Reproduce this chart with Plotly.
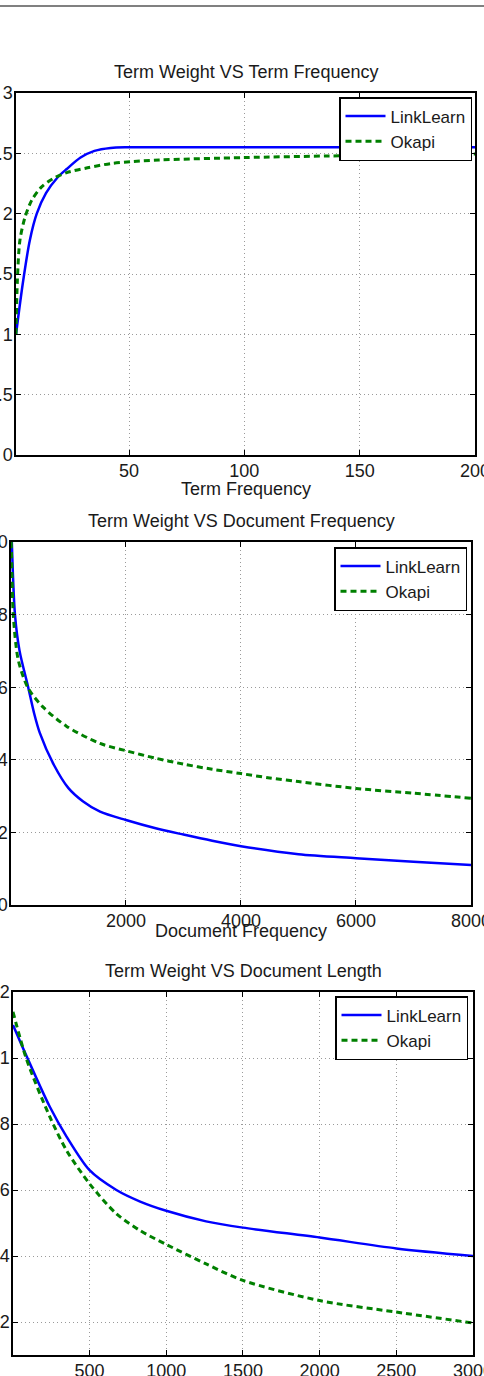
import plotly.graph_objects as go

W, H = 484, 1376

# ---- Data: Term Weight VS Term Frequency ----
tf_x_linklearn = [1, 4, 7, 10, 14, 19, 23, 29, 35, 42, 50, 100, 150, 200]
tf_y_linklearn = [1.0, 1.43, 1.78, 2.0, 2.17, 2.30, 2.37, 2.465, 2.52, 2.545, 2.55, 2.55, 2.55, 2.55]
tf_x_okapi = [1, 1.6, 2.7, 4.9, 7.8, 12, 17, 23, 32, 42, 52, 63, 100, 136, 200]
tf_y_okapi = [1.0, 1.45, 1.78, 1.97, 2.11, 2.22, 2.29, 2.34, 2.38, 2.415, 2.432, 2.445, 2.465, 2.478, 2.494]

# ---- Data: Term Weight VS Document Frequency ----
df_x_linklearn = [15, 70, 150, 300, 400, 500, 750, 1000, 1250, 1550, 2000, 2500, 3000, 3500, 4000, 5000, 6000, 7000, 8000]
df_y_linklearn = [10.0, 8.0, 7.0, 6.0, 5.3, 4.75, 3.85, 3.22, 2.86, 2.57, 2.34, 2.12, 1.94, 1.77, 1.62, 1.40, 1.29, 1.19, 1.10]
df_x_okapi = [5, 20, 40, 127, 300, 560, 970, 1550, 2000, 2500, 3000, 3500, 4000, 4500, 5000, 6000, 7000, 8000]
df_y_okapi = [10.0, 9.0, 8.0, 6.75, 5.97, 5.45, 4.92, 4.45, 4.25, 4.05, 3.88, 3.74, 3.62, 3.50, 3.40, 3.21, 3.08, 2.94]

# ---- Data: Term Weight VS Document Length ----
dl_x_linklearn = [1, 90, 240, 350, 500, 675, 830, 1000, 1260, 1500, 2000, 2500, 3000]
dl_y_linklearn = [1.1, 1.005, 0.853, 0.762, 0.66, 0.60, 0.565, 0.537, 0.505, 0.486, 0.456, 0.423, 0.40]
dl_x_okapi = [1, 90, 240, 350, 500, 675, 830, 1000, 1260, 1500, 2000, 2500, 3000]
dl_y_okapi = [1.14, 0.995, 0.823, 0.72, 0.619, 0.528, 0.477, 0.435, 0.376, 0.326, 0.265, 0.23, 0.197]

titles = ["Term Weight VS Term Frequency", "Term Weight VS Document Frequency", "Term Weight VS Document Length"]
xtitles = ["Term Frequency", "Document Frequency", None]
series_names = ["LinkLearn", "Okapi"]

xtick_vals = [[50, 100, 150, 200], [2000, 4000, 6000, 8000], [500, 1000, 1500, 2000, 2500, 3000]]
ytick_vals = [[0, 0.5, 1, 1.5, 2, 2.5, 3], [0, 2, 4, 6, 8, 10], [0.2, 0.4, 0.6, 0.8, 1, 1.2]]
x_ranges = [[1, 200], [1, 8000], [1, 3000]]
y_ranges = [[0, 3], [0, 10], [0.1, 1.2]]

# pixel boxes of axes (left, right, top, bottom)
boxes = [(16, 475, 93, 455), (11, 471, 542, 905), (13, 473, 992, 1355)]
legend_pos = [(472, 97), (467, 547), (468, 996)]
title_y = [72, 521, 971]
xtitle_y = [489, 931, None]

FONT = "Liberation Sans, Arial, sans-serif"
BLUE = "#0000ff"
GREEN = "#008000"

data = [
    (tf_x_linklearn, tf_y_linklearn, tf_x_okapi, tf_y_okapi),
    (df_x_linklearn, df_y_linklearn, df_x_okapi, df_y_okapi),
    (dl_x_linklearn, dl_y_linklearn, dl_x_okapi, dl_y_okapi),
]

fig = go.Figure()
layout = dict(
    width=W, height=H,
    margin=dict(l=0, r=0, t=0, b=0, autoexpand=False),
    paper_bgcolor="white", plot_bgcolor="white",
    font=dict(family=FONT, size=18, color="#1a1a1a"),
    showlegend=True,
    annotations=[], shapes=[],
)

for i, (xl, yl, xo, yo) in enumerate(data):
    n = "" if i == 0 else str(i + 1)
    leg = "legend" if i == 0 else f"legend{i+1}"
    fig.add_trace(go.Scatter(x=xl, y=yl, mode="lines", name=series_names[0],
                             line=dict(color=BLUE, width=2.5, shape="spline", smoothing=0.8),
                             xaxis="x" + n, yaxis="y" + n, legend=leg))
    fig.add_trace(go.Scatter(x=xo, y=yo, mode="lines", name=series_names[1],
                             line=dict(color=GREEN, width=3, dash="6px,4px", shape="spline", smoothing=0.8),
                             xaxis="x" + n, yaxis="y" + n, legend=leg))
    l, r, t, b = boxes[i]
    axcommon = dict(
        showline=True, linecolor="black", linewidth=1.5, mirror="ticks",
        ticks="inside", ticklen=5, tickcolor="black", tickwidth=1,
        showgrid=True, gridcolor="#9a9a9a", griddash="1px,3px", gridwidth=1,
        zeroline=False, tickfont=dict(size=18, color="#1a1a1a", family=FONT),
        automargin=False, ticklabeloverflow="allow",
    )
    layout["xaxis" + n] = dict(axcommon, domain=[l / W, r / W], range=x_ranges[i],
                               tickmode="array", tickvals=xtick_vals[i],
                               anchor="y" + n, ticklabelstandoff=-1)
    layout["yaxis" + n] = dict(axcommon, domain=[1 - b / H, 1 - t / H], range=y_ranges[i],
                               tickmode="array", tickvals=ytick_vals[i],
                               anchor="x" + n, ticklabelstandoff=-2)
    lx, ly = legend_pos[i]
    layout[leg] = dict(x=lx / W, y=1 - ly / H, xanchor="right", yanchor="top",
                       bgcolor="white", bordercolor="black", borderwidth=1.5,
                       font=dict(size=17, family=FONT, color="#1a1a1a"),
                       tracegroupgap=0, itemwidth=40)
    layout["annotations"].append(dict(
        text=titles[i], x=(l + r) / 2 / W, y=1 - title_y[i] / H, xref="paper", yref="paper",
        xanchor="center", yanchor="middle", showarrow=False,
        font=dict(size=18, family=FONT, color="#1a1a1a")))
    if xtitles[i]:
        layout["annotations"].append(dict(
            text=xtitles[i], x=(l + r) / 2 / W, y=1 - xtitle_y[i] / H, xref="paper", yref="paper",
            xanchor="center", yanchor="middle", showarrow=False,
            font=dict(size=18, family=FONT, color="#1a1a1a")))

layout["shapes"].append(dict(type="line", xref="paper", yref="paper", x0=0, x1=1,
                             y0=1 - 6 / H, y1=1 - 6 / H, line=dict(color="#808080", width=2)))

fig.update_layout(**layout)
fig.write_html("out.html")
